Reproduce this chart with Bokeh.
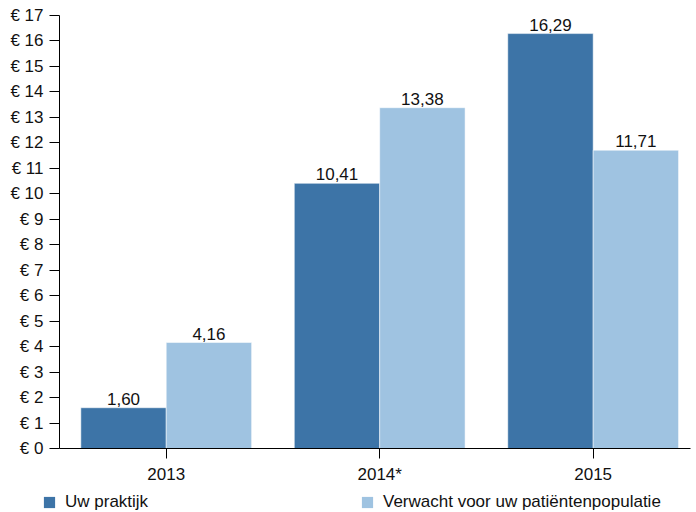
from bokeh.plotting import figure
from bokeh.models import ColumnDataSource, FixedTicker, Legend, LegendItem, LabelSet
from bokeh.layouts import column
from bokeh.embed import file_html
from bokeh.resources import INLINE
from bokeh.core.properties import value

years = ["2013", "2014*", "2015"]
uw_praktijk = [1.60, 10.41, 16.29]
verwacht = [4.16, 13.38, 11.71]
y_ticks = list(range(0, 18))
series_names = ["Uw praktijk", "Verwacht voor uw pati\u00ebntenpopulatie"]

DARK = "#3d74a7"
LIGHT = "#9fc3e1"
FONT = "Liberation Sans"
FS = "17px"
TXT = "#111111"

idx = list(range(len(years)))
src_a = ColumnDataSource(dict(x=[i - 0.2 for i in idx], top=uw_praktijk,
                              lbl=[f"{v:.2f}".replace(".", ",") for v in uw_praktijk]))
src_b = ColumnDataSource(dict(x=[i + 0.2 for i in idx], top=verwacht,
                              lbl=[f"{v:.2f}".replace(".", ",") for v in verwacht]))

p = figure(width=696, height=487, output_backend="svg", toolbar_location=None,
           x_range=(-0.5, 2.456), y_range=(0, 17),
           min_border_left=59, min_border_right=6, min_border_top=15, min_border_bottom=39)
p.frame_align = False
p.outline_line_color = None
p.xgrid.grid_line_color = None
p.ygrid.grid_line_color = None

p.vbar(x="x", top="top", width=0.4, source=src_a, fill_color=DARK,
       line_color="white", line_alpha=0.5, line_width=1)
p.vbar(x="x", top="top", width=0.4, source=src_b, fill_color=LIGHT,
       line_color="white", line_alpha=0.5, line_width=1)

for s in (src_a, src_b):
    p.add_layout(LabelSet(x="x", y="top", text="lbl", source=s, text_align="center",
                          text_baseline="alphabetic", y_offset=3,
                          text_font=value(FONT), text_font_size=FS, text_color=TXT))

p.xaxis.ticker = FixedTicker(ticks=idx)
p.xaxis.major_label_overrides = {i: y for i, y in zip(idx, years)}
p.yaxis.ticker = FixedTicker(ticks=y_ticks)
p.yaxis.major_label_overrides = {t: f"\u20ac {t}" for t in y_ticks}
for ax in (p.xaxis, p.yaxis):
    ax.minor_tick_line_color = None
    ax.major_tick_out = 10
    ax.major_tick_in = 0
    ax.axis_line_color = "black"
    ax.major_tick_line_color = "black"
    ax.major_label_text_font = FONT
    ax.major_label_text_font_size = FS
    ax.major_label_text_color = TXT
p.yaxis.major_label_standoff = 6
p.xaxis.major_label_standoff = 6

# legend strip
lf = figure(width=696, height=25, output_backend="svg", toolbar_location=None,
            x_range=(0, 1), y_range=(0, 1), x_axis_type=None, y_axis_type=None,
            min_border_left=0, min_border_right=0, min_border_top=0, min_border_bottom=0)
lf.frame_align = False
lf.grid.visible = False
lf.outline_line_color = None
# swatch renderers: single out-of-view bar each, used only for legend glyphs
la = lf.vbar(x=[5], top=[1], width=0.1, fill_color=DARK, line_color=None)
lb = lf.vbar(x=[5], top=[1], width=0.1, fill_color=LIGHT, line_color=None)

leg1 = Legend(items=[LegendItem(label=series_names[0], renderers=[la])], location=(42, 0))
leg2 = Legend(items=[LegendItem(label=series_names[1], renderers=[lb])], location=(360, 0))
for lg in (leg1, leg2):
    lg.glyph_width = 14
    lg.glyph_height = 14
    lg.padding = 0
    lg.margin = 0
    lg.spacing = 0
    lg.label_standoff = 9
    lg.border_line_color = None
    lg.background_fill_alpha = 0
    lg.label_text_font = FONT
    lg.label_text_font_size = FS
    lg.label_text_color = TXT
    lf.add_layout(lg, "center")

layout = column(p, lf, spacing=0)
open("out.html", "w").write(file_html(layout, INLINE))
